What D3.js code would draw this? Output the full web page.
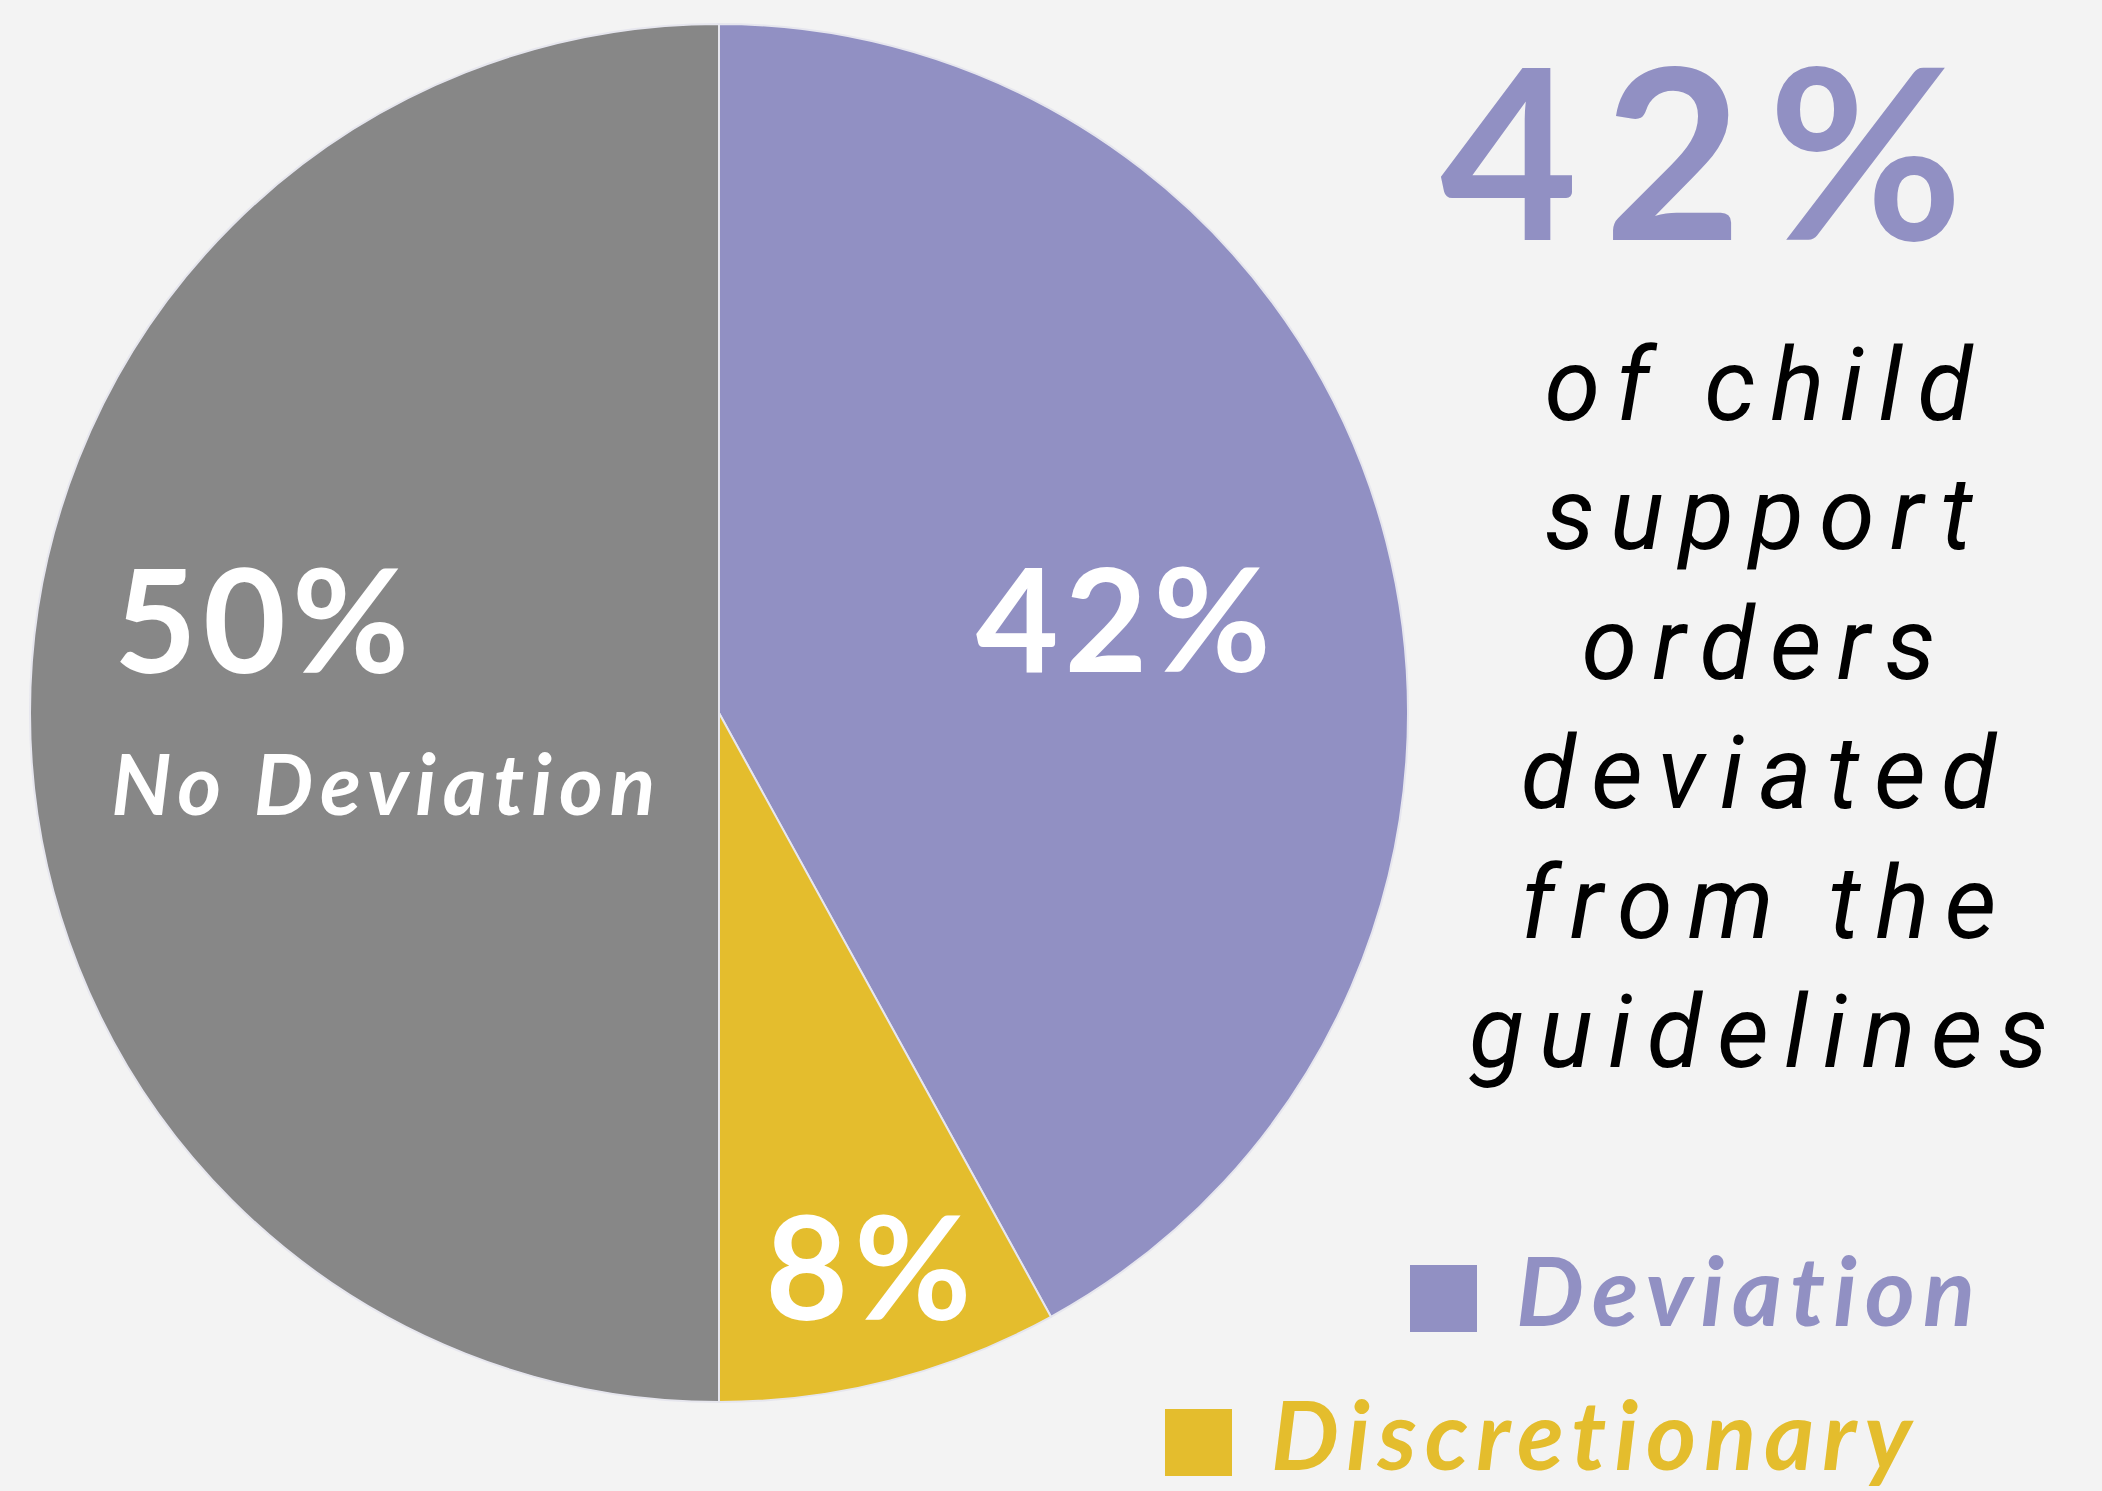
<!DOCTYPE html>
<html>
<head>
<meta charset="utf-8">
<script src="https://cdn.jsdelivr.net/npm/d3@7"></script>
<style>
  html, body { margin: 0; padding: 0; background: #f3f3f3; }
  svg { display: block; }
</style>
</head>
<body>
<svg id="chart" width="2102" height="1491"></svg>
<script>
// ---- data ----
const categories = ["Deviation", "Discretionary", "No Deviation"];
const values = [42, 8, 50];
const sliceColors = ["#9190c3", "#e4bd2d", "#878787"];
const valueLabels = ["42%", "8%", "50%"];
const headline = "42%";
const blurbLines = ["of child", "support", "orders", "deviated", "from the", "guidelines"];
const legendItems = ["Deviation", "Discretionary"];

// ---- layout ----
const W = 2102, H = 1491;
const cx = 719, cy = 713, R = 689;
const svg = d3.select("#chart");
svg.append("rect").attr("width", W).attr("height", H).attr("fill", "#f3f3f3");

const color = d3.scaleOrdinal().domain(categories).range(sliceColors);
const pie = d3.pie().sort(null).value(d => d.value);
const arcs = pie(categories.map((c, i) => ({ cat: c, value: values[i], label: valueLabels[i] })));
const arc = d3.arc().innerRadius(0).outerRadius(R);

const g = svg.append("g").attr("transform", `translate(${cx},${cy})`);
g.selectAll("path.slice").data(arcs).join("path")
  .attr("class", "slice")
  .attr("d", arc)
  .attr("fill", d => color(d.data.cat))
  .attr("stroke", "#e6e6ee")
  .attr("stroke-width", 2);

const boldFont = "Lato, sans-serif";

// slice value labels (offsets relative to pie centre, in units of radius)
const labelPos = {
  "Deviation":    { dx: 0.591, dy: -0.06, anchor: "middle" },
  "Discretionary":{ dx: 0.221, dy: 0.881, anchor: "middle" },
  "No Deviation": { dx: -0.878, dy: -0.058, anchor: "start" }
};
g.selectAll("text.val").data(arcs).join("text")
  .attr("class", "val")
  .attr("x", d => labelPos[d.data.cat].dx * R)
  .attr("y", d => labelPos[d.data.cat].dy * R)
  .attr("text-anchor", d => labelPos[d.data.cat].anchor)
  .attr("font-family", boldFont)
  .attr("font-weight", 700)
  .attr("font-size", 143)
  .attr("letter-spacing", 6)
  .attr("fill", "#ffffff")
  .text(d => d.data.label);

// "No Deviation" sub-label
g.append("text")
  .attr("x", -0.882 * R)
  .attr("y", 0.148 * R)
  .attr("font-family", boldFont)
  .attr("font-weight", 700)
  .attr("font-style", "italic")
  .attr("font-size", 84)
  .attr("letter-spacing", 7)
  .attr("fill", "#ffffff")
  .text(categories[2]);

// headline
svg.append("text")
  .attr("x", 1440)
  .attr("y", 240)
  .attr("font-family", boldFont)
  .attr("font-weight", 700)
  .attr("font-size", 238)
  .attr("letter-spacing", 26)
  .attr("fill", color("Deviation"))
  .text(headline);

// blurb
svg.append("g").selectAll("text").data(blurbLines).join("text")
  .attr("x", 1766)
  .attr("y", (d, i) => 420 + i * 129.4)
  .attr("text-anchor", "middle")
  .attr("font-family", "Roboto, sans-serif")
  .attr("font-style", "italic")
  .attr("font-size", 101)
  .attr("letter-spacing", 15)
  .attr("fill", "#000000")
  .text(d => d);

// legend
const legendRows = [
  { cat: legendItems[0], sx: 1410, y: 1265 },
  { cat: legendItems[1], sx: 1165, y: 1409 }
];
const lg = svg.append("g").selectAll("g").data(legendRows).join("g");
lg.append("rect")
  .attr("x", d => d.sx).attr("y", d => d.y)
  .attr("width", 67).attr("height", 67)
  .attr("fill", d => color(d.cat));
lg.append("text")
  .attr("x", d => d.sx + 106)
  .attr("y", d => d.y + 61)
  .attr("font-family", boldFont)
  .attr("font-weight", 700)
  .attr("font-style", "italic")
  .attr("font-size", 96)
  .attr("letter-spacing", 8)
  .attr("fill", d => color(d.cat))
  .text(d => d.cat);
</script>
</body>
</html>
